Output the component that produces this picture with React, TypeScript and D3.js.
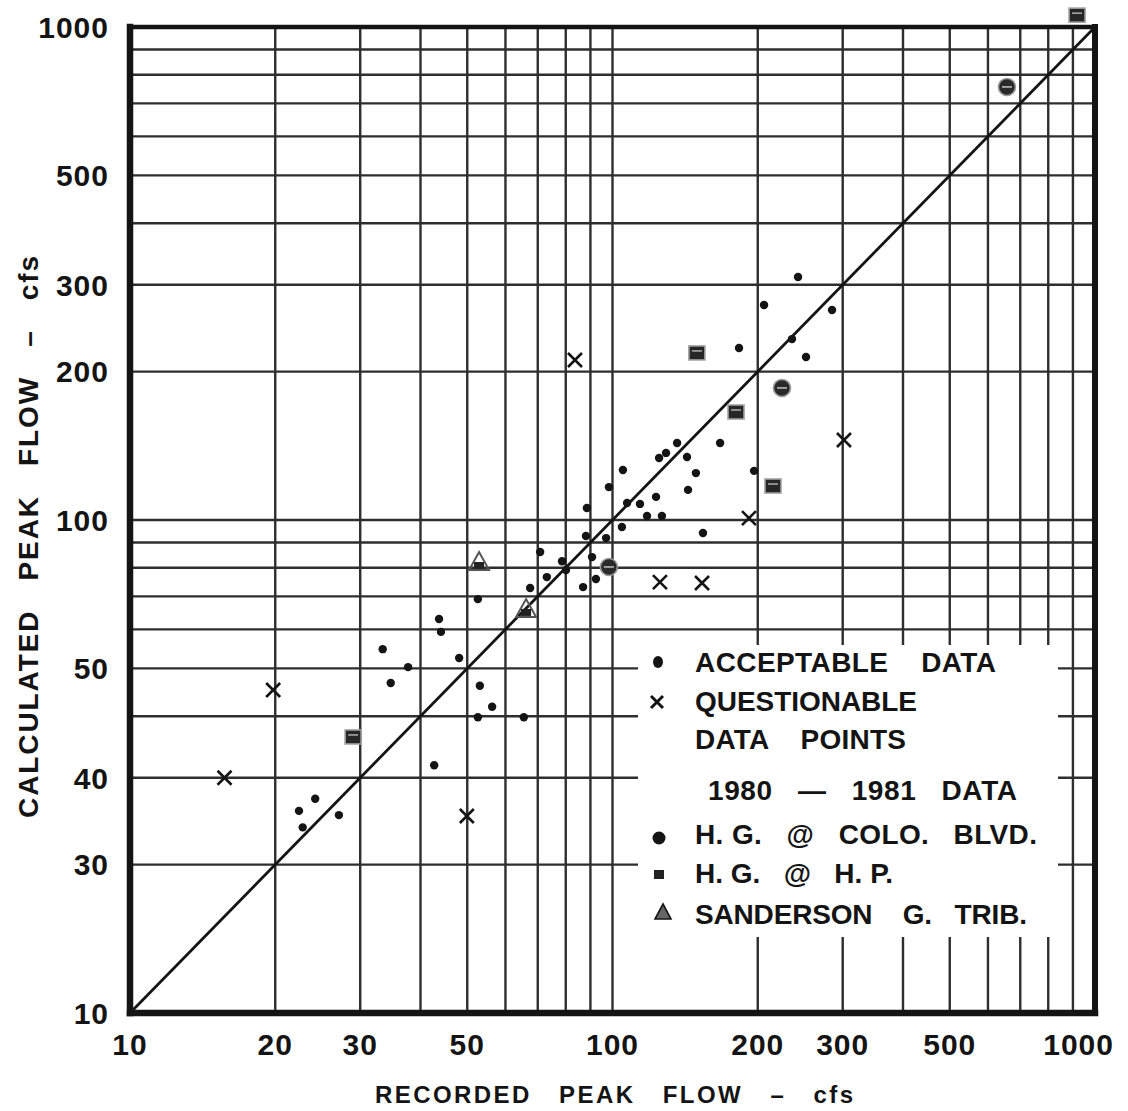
import React from "react";
import * as d3 from "d3";

// tick values (true log positions) and the labels printed at them
const xTicks = [10, 20, 30, 50, 100, 200, 300, 500, 1000];
const xTickLabels = ["10", "20", "30", "50", "100", "200", "300", "500", "1000"];
const yTicks = [1000, 500, 300, 200, 100, 50, 30, 20, 10];
const yTickLabels = ["1000", "500", "300", "200", "100", "50", "40", "30", "10"];

const xGrid = [20, 30, 40, 50, 60, 70, 80, 90, 100, 200, 300, 400, 500, 600, 700, 800, 900];
const yGrid = [20, 30, 40, 50, 60, 70, 80, 90, 100, 200, 300, 400, 500, 600, 700, 800, 900];

// [recorded, calculated]
const acceptable = [
  [22.4, 25.7], [22.8, 23.8], [24.2, 27.2], [27.1, 25.2], [33.4, 54.7], [34.7, 46.7],
  [37.7, 50.3], [42.7, 31.8], [43.7, 63], [44.1, 59.3], [48.1, 52.5], [53.1, 46.1],
  [56.3, 41.8], [52.6, 39.8], [65.5, 39.8], [52.6, 69.1], [67.5, 72.8], [73.1, 76.6],
  [70.8, 86.1], [78.6, 82.5], [80.1, 79.2], [88.1, 92.8], [90.7, 84.1], [92.4, 75.9],
  [86.9, 73.1], [97, 91.9], [104.6, 96.8], [88.5, 105.8], [98.3, 116.6], [105.1, 126.3],
  [107.2, 108.3], [114, 107.8], [123.1, 111.4], [117.9, 101.9], [126.6, 101.9], [154, 94.1],
  [124.9, 133.6], [129.1, 136.8], [136.1, 143.3], [142.7, 134.2], [148.9, 124.5], [143.4, 115.1],
  [167.1, 143.3], [196.5, 125.8], [182.9, 223.3], [206.1, 272.9], [242.4, 311], [285.1, 266.7],
  [235.5, 232.8], [251.8, 214.1],
];
const questionable = [
  [19.8, 45.2], [15.7, 30], [49.9, 25.1], [83.6, 211.1], [125.4, 74.8], [153.3, 74.5],
  [191.8, 100.9], [301.8, 145.3],
];
const coloBlvd = [[98.3, 80.3], [224.5, 185.3], [656.9, 755.8]];
const hgHp = [[149.6, 218.2], [180.3, 165.6], [215.1, 117.2], [29.0, 36.3], [917.9, 1057]];
const sanderson = [[52.9, 81.8], [66.2, 65.7]];

const legendLabels = [
  "ACCEPTABLE    DATA",
  "QUESTIONABLE",
  "DATA    POINTS",
  "1980   \u2014   1981   DATA",
  "H. G.   @   COLO.   BLVD.",
  "H. G.   @   H. P.",
  "SANDERSON    G.   TRIB.",
];
const xTitle = "RECORDED   PEAK   FLOW   \u2013   cfs";
const yTitle = "CALCULATED   PEAK   FLOW   \u2013   cfs";

// layout for legend rows: [x, baseline, width]
const legendLayout = [
  [695, 672, 301], [695, 711, 222], [695, 749, 211], [708, 800, 309],
  [695, 844, 342], [695, 883, 198], [695, 924, 332],
];

const FONT = "'Liberation Sans', Arial, Helvetica, sans-serif";
const INK = "#141414";

const Cross = ({ cx, cy, s = 7, w = 2.6 }) => (
  <path d={`M${cx - s},${cy - s}L${cx + s},${cy + s}M${cx - s},${cy + s}L${cx + s},${cy - s}`}
    stroke={INK} strokeWidth={w} fill="none" />
);
const Circ = ({ cx, cy }) => (
  <g>
    <circle cx={cx} cy={cy} r={8.5} fill="#2a2a2a" stroke="#9a9a9a" strokeWidth={1.6} />
    <line x1={cx - 5} x2={cx + 5} y1={cy} y2={cy} stroke="#cfcfcf" strokeWidth={1.4} />
  </g>
);
const Sq = ({ cx, cy }) => (
  <g>
    <rect x={cx - 8} y={cy - 7} width={16} height={14} fill="#262626" stroke="#a0a0a0" strokeWidth={1.6} />
    <line x1={cx - 5} x2={cx + 5} y1={cy - 2} y2={cy - 2} stroke="#d0d0d0" strokeWidth={1.2} />
  </g>
);
const Tri = ({ cx, cy }) => (
  <g>
    <path d={`M${cx},${cy - 11}L${cx + 10},${cy + 7}L${cx - 10},${cy + 7}Z`} fill="none" stroke="#555" strokeWidth={2} />
    <rect x={cx - 5} y={cy - 1} width={10} height={7} fill="#222" />
  </g>
);

export default function App() {
  const x = d3.scaleLog().domain([10, 1000]).range([130, 1095]);
  const y = d3.scaleLog().domain([10, 1000]).range([1013, 27]);
  const [x0, x1] = x.range();
  const [y0, y1] = y.range();

  return (
    <svg width={1128} height={1111} style={{ position: "absolute", left: 0, top: 0, background: "#fff" }}
      fontFamily={FONT} fontWeight="bold">
      {/* grid */}
      <g stroke="#2e2e2e" strokeWidth={2.4}>
        {xGrid.map(v => <line key={"gx" + v} x1={x(v)} x2={x(v)} y1={y0} y2={y1} />)}
        {yGrid.map(v => <line key={"gy" + v} x1={x0} x2={x1} y1={y(v)} y2={y(v)} />)}
      </g>

      {/* legend box masks the grid */}
      <rect x={638} y={645} width={420} height={292} fill="#fff" />

      {/* 1:1 line */}
      <line x1={x(10)} y1={y(10)} x2={x(1000)} y2={y(1000)} stroke={INK} strokeWidth={2.8} />

      {/* frame */}
      <g stroke={INK} fill="none" strokeLinecap="square">
        <line x1={x0} x2={x1} y1={y1} y2={y1} strokeWidth={4.5} />
        <line x1={x0} x2={x1} y1={y0} y2={y0} strokeWidth={6.5} />
        <line x1={x0} x2={x0} y1={y0} y2={y1} strokeWidth={6.5} />
        <line x1={x1} x2={x1} y1={y0} y2={y1} strokeWidth={6} />
      </g>

      {/* points */}
      {acceptable.map(([a, b], i) => <circle key={"a" + i} cx={x(a)} cy={y(b)} r={4.2} fill={INK} />)}
      {questionable.map(([a, b], i) => <Cross key={"q" + i} cx={x(a)} cy={y(b)} />)}
      {coloBlvd.map(([a, b], i) => <Circ key={"c" + i} cx={x(a)} cy={y(b)} />)}
      {hgHp.map(([a, b], i) => <Sq key={"h" + i} cx={x(a)} cy={y(b)} />)}
      {sanderson.map(([a, b], i) => <Tri key={"s" + i} cx={x(a)} cy={y(b)} />)}

      {/* tick labels */}
      <g fill={INK} fontSize={30} letterSpacing={1}>
        {yTicks.map((v, i) => (
          <text key={"yl" + v} x={109} y={y(v)} dy="0.36em" textAnchor="end">{yTickLabels[i]}</text>
        ))}
        {xTicks.map((v, i) => {
          const last = i === xTicks.length - 1;
          return (
            <text key={"xl" + v} x={last ? 1114 : x(v)} y={1055} textAnchor={last ? "end" : "middle"}>
              {xTickLabels[i]}
            </text>
          );
        })}
      </g>

      {/* axis titles */}
      <text x={375} y={1103} fontSize={24} fill={INK} textLength={478} lengthAdjust="spacing"
        style={{ whiteSpace: "pre" }}>{xTitle}</text>
      <text transform="translate(38,818) rotate(-90)" fontSize={28} fill={INK} textLength={562}
        lengthAdjust="spacing" style={{ whiteSpace: "pre" }}>{yTitle}</text>

      {/* legend */}
      <g fill={INK} fontSize={28}>
        {legendLabels.map((t, i) => {
          const [lx, ly, lw] = legendLayout[i];
          return (
            <text key={"lg" + i} x={lx} y={ly} textLength={lw} lengthAdjust="spacing"
              style={{ whiteSpace: "pre" }}>{t}</text>
          );
        })}
      </g>
      <ellipse cx={658} cy={662} rx={5} ry={6} fill={INK} />
      <Cross cx={657} cy={702} s={6} w={3} />
      <circle cx={659} cy={838} r={6.5} fill={INK} />
      <rect x={654} y={870} width={10} height={9} fill="#222" />
      <path d="M663,904L671,919L655,919Z" fill="#666" stroke={INK} strokeWidth={1.6} />
    </svg>
  );
}
